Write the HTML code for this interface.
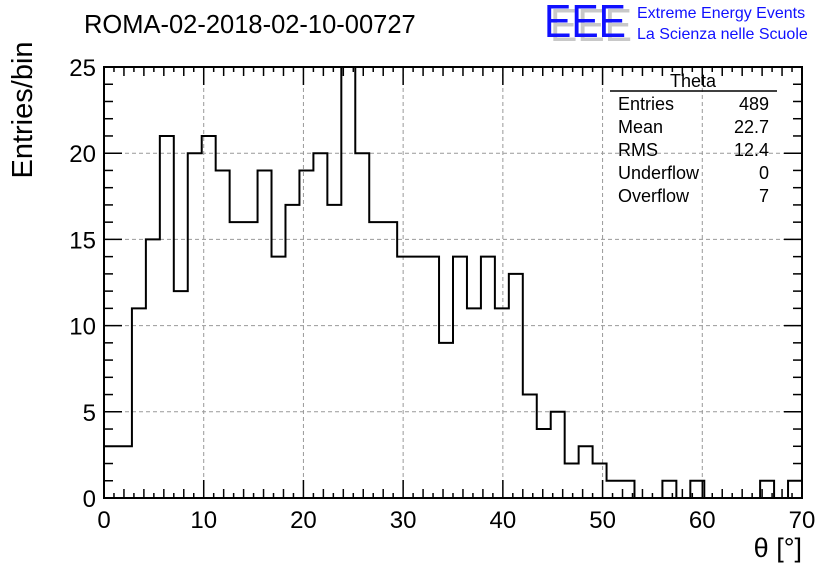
<!DOCTYPE html>
<html><head><meta charset="utf-8"><style>
body{margin:0;background:#fff;}
svg{display:block;font-family:"Liberation Sans",sans-serif;}
</style></head><body>
<svg id="c" width="836" height="572">
<text x="84" y="33" font-size="25.5">ROMA-02-2018-02-10-00727</text>
<g>
<text x="550" y="41" font-size="46" fill="#c8c8c8" textLength="82" lengthAdjust="spacingAndGlyphs">EEE</text>
<text x="544" y="37" font-size="46" fill="#1010ff" textLength="82" lengthAdjust="spacingAndGlyphs">EEE</text>
</g>
<text x="637" y="18" font-size="16" fill="#1010ff">Extreme Energy Events</text>
<text x="637" y="39" font-size="16" fill="#1010ff">La Scienza nelle Scuole</text>
<text transform="translate(32,110) rotate(-90)" text-anchor="middle" font-size="29">Entries/bin</text>
<text x="802" y="557" text-anchor="end" font-size="27">θ [°]</text>
<g id="grid"></g><g id="ticks"></g><g id="hist"></g>
<rect x="104" y="67" width="698" height="431" fill="none" stroke="#000" stroke-width="2"/>
<g font-size="18">
<text x="693" y="87" text-anchor="middle">Theta</text>
<line x1="610" y1="91" x2="777" y2="91" stroke="#000" stroke-width="1.5"/>
<text x="618" y="110">Entries</text><text x="769" y="110" text-anchor="end">489</text>
<text x="618" y="133">Mean</text><text x="769" y="133" text-anchor="end">22.7</text>
<text x="618" y="156">RMS</text><text x="769" y="156" text-anchor="end">12.4</text>
<text x="618" y="179">Underflow</text><text x="769" y="179" text-anchor="end">0</text>
<text x="618" y="202">Overflow</text><text x="769" y="202" text-anchor="end">7</text>
</g>
</svg>
<script>
const binCounts=[3,3,11,15,21,12,20,21,19,16,16,19,14,17,19,20,17,25,20,16,16,14,14,14,9,14,11,14,11,13,6,4,5,2,3,2,1,1,0,0,1,0,1,0,0,0,0,1,0,1];
const xTicks=[0,10,20,30,40,50,60,70];
const yTicks=[0,5,10,15,20,25];
const xMin=0,xMax=70,yMin=0,yMax=25;
const L=104,R=802,T=67,B=498;
const sx=v=>L+(v-xMin)/(xMax-xMin)*(R-L);
const sy=v=>B-(v-yMin)/(yMax-yMin)*(B-T);
const NS="http://www.w3.org/2000/svg";
function mk(tag,attrs,parent){const e=document.createElementNS(NS,tag);for(const k in attrs)e.setAttribute(k,attrs[k]);document.getElementById(parent).appendChild(e);return e;}
xTicks.forEach(t=>{
 if(t>xMin&&t<xMax){const g=mk('line',{x1:sx(t),x2:sx(t),y1:T,y2:B,stroke:'#999','stroke-dasharray':'4,3'},'grid');
 
 }
 const l=mk('text',{x:sx(t),y:B+30,'text-anchor':'middle','font-size':'24'},'ticks');l.textContent=t;
 
 
});
yTicks.forEach(t=>{
 if(t>yMin&&t<yMax){const g=mk('line',{x1:L,x2:R,y1:sy(t),y2:sy(t),stroke:'#999','stroke-dasharray':'4,3'},'grid');
 
 }
 const l=mk('text',{x:L-8,y:sy(t)+9,'text-anchor':'end','font-size':'24'},'ticks');l.textContent=t;
 
 
});
for(let v=xMin;v<=xMax;v+=1){const len=v%10==0?18:(v%2==0?9:5);
 mk('line',{x1:sx(v),x2:sx(v),y1:B,y2:B-len,stroke:'#000','stroke-width':1.5},'ticks');
 mk('line',{x1:sx(v),x2:sx(v),y1:T,y2:T+len,stroke:'#000','stroke-width':1.5},'ticks');}
for(let v=yMin;v<=yMax;v+=1){const len=v%5==0?18:9;
 mk('line',{x1:L,x2:L+len,y1:sy(v),y2:sy(v),stroke:'#000','stroke-width':1.5},'ticks');
 mk('line',{x1:R,x2:R-len,y1:sy(v),y2:sy(v),stroke:'#000','stroke-width':1.5},'ticks');}
const w=(xMax-xMin)/binCounts.length;
let d='M'+sx(xMin)+','+sy(0);
binCounts.forEach((c,i)=>{d+=' L'+sx(xMin+i*w)+','+sy(c)+' L'+sx(xMin+(i+1)*w)+','+sy(c);});
d+=' L'+sx(xMax)+','+sy(0);
const p=mk('path',{d:d,fill:'none',stroke:'#000','stroke-width':2},'hist');


</script>
</body></html>
